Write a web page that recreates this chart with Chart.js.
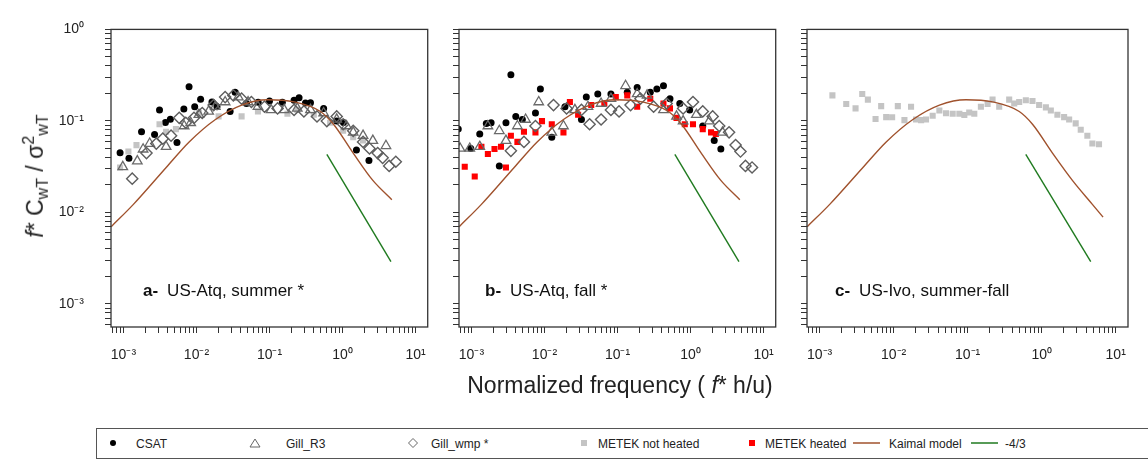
<!DOCTYPE html>
<html>
<head>
<meta charset="utf-8">
<script src="https://cdn.jsdelivr.net/npm/chart.js@4.4.0/dist/chart.umd.min.js"></script>
<style>
  html, body { margin: 0; padding: 0; background: #fff; }
  #page { position: relative; width: 1148px; height: 459px; overflow: hidden;
          font-family: "Liberation Sans", Arial, sans-serif; color: #222; }
  #page canvas { position: absolute; top: 0; }
  #ytitle { position: absolute; left: 36px; top: 176px; white-space: nowrap; font-size: 23px;
            transform: translate(-50%, -50%) rotate(-90deg); }
  #ytitle sub, #ytitle sup { font-size: 16px; }
  #xtitle { position: absolute; left: 620px; top: 385px; white-space: nowrap; font-size: 23px;
            transform: translate(-50%, -50%); }
  #legend { position: absolute; left: 96px; top: 428px; width: 1070px; height: 31px;
            border: 1px solid #555; box-sizing: border-box; font-size: 12px; }
  #legend .m { position: absolute; top: 9px; }
  #legend .t { position: absolute; top: 8px; white-space: nowrap; }
</style>
</head>
<body>
<div id="page">
  <canvas id="panelA" width="440" height="372" style="left:0px"></canvas>
  <canvas id="panelB" width="348" height="372" style="left:440px"></canvas>
  <canvas id="panelC" width="360" height="372" style="left:788px"></canvas>
  <div id="ytitle"><i>f</i>* C<sub>wT</sub>&nbsp;/&nbsp;σ<sup>2</sup><sub>wT</sub></div>
  <div id="xtitle">Normalized frequency ( <i>f</i>* h/u)</div>
  <div id="legend">
    <svg class="m" style="left:11px" width="10" height="10"><circle cx="5" cy="5" r="3" fill="#000"/></svg>
    <span class="t" style="left:39px">CSAT</span>
    <svg class="m" style="left:152px" width="12" height="10"><polygon points="6,1 11,9 1,9" fill="none" stroke="#666" stroke-width="1"/></svg>
    <span class="t" style="left:189px">Gill_R3</span>
    <svg class="m" style="left:310px" width="12" height="10"><polygon points="6,0.5 10.5,5 6,9.5 1.5,5" fill="none" stroke="#666" stroke-width="1"/></svg>
    <span class="t" style="left:334px">Gill_wmp *</span>
    <svg class="m" style="left:482px" width="10" height="10"><rect x="2" y="2" width="6" height="6" fill="#c4c4c4"/></svg>
    <span class="t" style="left:501px">METEK not heated</span>
    <svg class="m" style="left:650px" width="10" height="10"><rect x="2" y="2" width="6" height="6" fill="#ff0000"/></svg>
    <span class="t" style="left:668px">METEK heated</span>
    <svg class="m" style="left:756px" width="28" height="10"><line x1="0" y1="5" x2="27" y2="5" stroke="#a0522d" stroke-width="1.5"/></svg>
    <span class="t" style="left:792px">Kaimal model</span>
    <svg class="m" style="left:874px" width="28" height="10"><line x1="0" y1="5" x2="27" y2="5" stroke="#1f7a1f" stroke-width="1.5"/></svg>
    <span class="t" style="left:908px">-4/3</span>
  </div>
</div>
<script>
// axis limits (log10 range -3.17 .. 1.166 in x, -3.25 .. 0 in y)
const X_MIN = 6.76e-4, X_MAX = 14.66;
const Y_MIN = 5.6e-4, Y_MAX = 1;

// Kaimal model curve
const kaimalX = [6.8e-4, 1.37e-3, 3.85e-3, 7.94e-3, 0.0182, 0.0416, 0.0951, 0.217, 0.498, 0.752, 1.40, 2.60, 4.84, 6.75];
const kaimalY = [0.00698, 0.01225, 0.031, 0.0589, 0.1037, 0.149, 0.1706, 0.1614, 0.1267, 0.0919, 0.0445, 0.0224, 0.01225, 0.00888];
const kaimalShortX = [6.8e-4, 1.37e-3, 3.85e-3, 7.94e-3, 0.0182, 0.0416, 0.0951, 0.217, 0.498, 0.752, 1.40, 2.60, 4.73];
const kaimalShortY = [0.00698, 0.01225, 0.031, 0.0589, 0.1037, 0.149, 0.1706, 0.1614, 0.1267, 0.0919, 0.0445, 0.0224, 0.0138];
// -4/3 reference slope
const slopeX = [0.61, 4.6];
const slopeY = [0.043, 0.0029];

// panel a: US-Atq, summer
const aCsatX = [9.0e-4, 1.19e-3, 1.77e-3, 2.67e-3, 3.12e-3, 3.76e-3, 4.39e-3, 5.41e-3, 6.72e-3, 7.92e-3, 9.46e-3, 0.0114, 0.0163, 0.0191, 0.0289, 0.0338, 0.0484, 0.07, 0.1, 0.15, 0.217, 0.254, 0.311, 0.364, 0.551, 0.833, 1.03, 1.55, 2.30];
const aCsatY = [0.045, 0.039, 0.076, 0.071, 0.132, 0.096, 0.104, 0.058, 0.135, 0.236, 0.143, 0.172, 0.161, 0.143, 0.127, 0.206, 0.155, 0.16, 0.165, 0.16, 0.168, 0.179, 0.157, 0.158, 0.137, 0.100, 0.096, 0.048, 0.037];
const aR3X = [9.8e-4, 1.55e-3, 1.86e-3, 2.29e-3, 3.84e-3, 6.78e-3, 8.34e-3, 0.0108, 0.0147, 0.0181, 0.0247, 0.0374, 0.0509, 0.0695, 0.105, 0.159, 0.240, 0.364, 0.551, 0.832, 1.135, 1.40, 1.91, 2.60, 3.93];
const aR3Y = [0.0315, 0.0364, 0.049, 0.0566, 0.0523, 0.088, 0.0955, 0.117, 0.127, 0.143, 0.161, 0.182, 0.161, 0.143, 0.132, 0.132, 0.137, 0.132, 0.122, 0.104, 0.088, 0.075, 0.069, 0.061, 0.0535];
const aWmpX = [1.32e-3, 2.07e-3, 2.82e-3, 3.46e-3, 4.49e-3, 5.81e-3, 7.14e-3, 9.25e-3, 0.0120, 0.0172, 0.0247, 0.032, 0.0415, 0.0565, 0.0855, 0.129, 0.217, 0.296, 0.447, 0.61, 0.832, 1.02, 1.40, 1.91, 2.34, 3.03, 3.54, 4.35, 5.36];
const aWmpY = [0.0234, 0.0445, 0.0566, 0.064, 0.069, 0.108, 0.0955, 0.108, 0.122, 0.149, 0.182, 0.19, 0.175, 0.161, 0.143, 0.137, 0.132, 0.127, 0.112, 0.0995, 0.112, 0.092, 0.078, 0.059, 0.050, 0.0445, 0.0395, 0.0322, 0.0358];
const aMetekX = [9.0e-4, 1.17e-3, 1.51e-3, 3.12e-3, 3.84e-3, 5.23e-3, 0.0108, 0.0201, 0.0415, 0.0695, 0.176, 0.24, 0.404, 0.676, 1.02, 1.40, 1.91];
const aMetekY = [0.031, 0.0463, 0.0544, 0.0918, 0.0762, 0.0813, 0.122, 0.112, 0.112, 0.127, 0.12, 0.132, 0.117, 0.0955, 0.078, 0.0665, 0.061];

// panel b: US-Atq, fall
const bCsatX = [6.6e-4, 9.8e-4, 1.30e-3, 1.60e-3, 1.86e-3, 2.41e-3, 2.97e-3, 3.47e-3, 4.05e-3, 4.98e-3, 7.53e-3, 8.8e-3, 0.0126, 0.0191, 0.0321, 0.0374, 0.0537, 0.0813, 0.136, 0.186, 0.281, 0.346, 0.426, 0.523, 0.713, 0.973, 1.47, 2.11, 2.60];
const bCsatY = [0.0814, 0.050, 0.072, 0.094, 0.0955, 0.0322, 0.0955, 0.32, 0.112, 0.1036, 0.122, 0.223, 0.0665, 0.143, 0.1036, 0.182, 0.197, 0.197, 0.206, 0.232, 0.206, 0.223, 0.242, 0.175, 0.155, 0.132, 0.088, 0.061, 0.0494];
const bR3X = [7.0e-4, 9.5e-4, 1.30e-3, 1.68e-3, 2.41e-3, 2.97e-3, 4.26e-3, 5.52e-3, 8.35e-3, 0.0126, 0.0182, 0.0261, 0.0394, 0.0596, 0.0813, 0.129, 0.186, 0.254, 0.426, 0.643, 0.791, 1.20, 1.81, 2.74];
const bR3Y = [0.050, 0.050, 0.0523, 0.088, 0.078, 0.061, 0.088, 0.1036, 0.161, 0.075, 0.088, 0.132, 0.143, 0.155, 0.175, 0.242, 0.197, 0.19, 0.132, 0.112, 0.0995, 0.117, 0.0995, 0.075];
const bWmpX = [3.47e-3, 5.24e-3, 7.53e-3, 0.0133, 0.0201, 0.0321, 0.0415, 0.0596, 0.0813, 0.105, 0.151, 0.206, 0.312, 0.471, 0.791, 1.08, 1.47, 2.01, 2.47, 3.37, 4.14, 4.83, 5.65, 6.95];
const bWmpY = [0.0471, 0.059, 0.088, 0.149, 0.137, 0.132, 0.092, 0.1036, 0.132, 0.127, 0.149, 0.175, 0.143, 0.155, 0.137, 0.161, 0.127, 0.112, 0.088, 0.075, 0.0544, 0.0463, 0.0322, 0.031];
const bHeatedX = [8.1e-4, 1.11e-3, 1.37e-3, 1.68e-3, 2.07e-3, 2.54e-3, 2.97e-3, 3.47e-3, 4.26e-3, 5.24e-3, 7.53e-3, 9.25e-3, 0.0126, 0.0182, 0.0223, 0.0289, 0.0437, 0.066, 0.0948, 0.136, 0.186, 0.281, 0.426, 0.523, 0.643, 0.834, 1.08, 1.47, 1.91, 2.22];
const bHeatedY = [0.0315, 0.0247, 0.0523, 0.0435, 0.0494, 0.0523, 0.031, 0.069, 0.059, 0.0762, 0.075, 0.0995, 0.092, 0.075, 0.161, 0.117, 0.149, 0.155, 0.182, 0.19, 0.143, 0.175, 0.155, 0.137, 0.108, 0.092, 0.092, 0.0814, 0.075, 0.072];

// panel c: US-Ivo, summer-fall
const cMetekX = [1.49e-3, 2.29e-3, 3.06e-3, 3.77e-3, 4.49e-3, 5.70e-3, 6.79e-3, 7.93e-3, 9.55e-3, 0.0114, 0.014, 0.0172, 0.0201, 0.0235, 0.0274, 0.0337, 0.0415, 0.051, 0.0628, 0.0773, 0.0902, 0.105, 0.123, 0.151, 0.186, 0.217, 0.267, 0.364, 0.426, 0.497, 0.611, 0.752, 0.924, 1.14, 1.33, 1.63, 2.01, 2.35, 2.88, 3.37, 4.14, 4.84, 5.95];
const cMetekY = [0.19, 0.153, 0.137, 0.197, 0.171, 0.105, 0.145, 0.110, 0.1095, 0.145, 0.102, 0.143, 0.1036, 0.102, 0.1036, 0.114, 0.13, 0.1215, 0.1197, 0.1197, 0.116, 0.1236, 0.1197, 0.143, 0.153, 0.171, 0.143, 0.171, 0.155, 0.161, 0.168, 0.165, 0.149, 0.1406, 0.13, 0.117, 0.110, 0.1036, 0.094, 0.080, 0.069, 0.0566, 0.0557];

const FONT = '"Liberation Sans", Arial, sans-serif';
const SUP = { '-': '\u207B', '0': '\u2070', '1': '\u00B9', '2': '\u00B2', '3': '\u00B3', '4': '\u2074' };

const pts = (xs, ys) => xs.map((x, i) => ({ x: x, y: ys[i] }));
const isDecade = v => Math.abs(Math.log10(v) - Math.round(Math.log10(v))) < 1e-6;
const decadeLabel = v => '10' + String(Math.round(Math.log10(v))).split('').map(c => SUP[c]).join('');

function logTicks(lo, hi) {
  const out = [];
  for (let e = -4; e <= 1; e++) {
    for (let m = 1; m <= 9; m++) {
      const v = m * Math.pow(10, e);
      if (v >= lo * 0.999 && v <= hi * 1.001) out.push({ value: v });
    }
  }
  return out;
}

// frame round the plot and the panel caption
const panelDeco = {
  id: 'panelDeco',
  afterDraw(chart, args, opts) {
    const ctx = chart.ctx, a = chart.chartArea;
    ctx.save();
    ctx.strokeStyle = '#333';
    ctx.lineWidth = 1.3;
    ctx.strokeRect(a.left, a.top, a.right - a.left, a.bottom - a.top);
    ctx.fillStyle = '#111';
    ctx.textBaseline = 'alphabetic';
    const x = a.left + opts.dx, y = a.bottom - 31;
    ctx.font = 'bold 17px ' + FONT;
    ctx.fillText(opts.tag, x, y);
    const w = ctx.measureText(opts.tag).width;
    ctx.font = '17px ' + FONT;
    ctx.fillText(opts.text, x + w + 9, y);
    ctx.restore();
  }
};

const csatStyle = { pointStyle: 'circle', pointRadius: 3.5, backgroundColor: '#000', borderColor: '#000', borderWidth: 0, order: 5 };
const metekStyle = { pointStyle: 'rect', pointRadius: 4.3, backgroundColor: '#c4c4c4', borderColor: '#c4c4c4', borderWidth: 0, order: 4 };
const heatedStyle = { pointStyle: 'rect', pointRadius: 4.3, backgroundColor: '#ff0000', borderColor: '#ff0000', borderWidth: 0, order: 4 };
const r3Style = { pointStyle: 'triangle', pointRadius: 5.5, backgroundColor: 'rgba(0,0,0,0)', borderColor: '#6a6a6a', borderWidth: 1.3, order: 3 };
const wmpStyle = { pointStyle: 'rectRot', pointRadius: 5.6, backgroundColor: 'rgba(0,0,0,0)', borderColor: '#5e5e5e', borderWidth: 1.4, order: 2 };
const lineStyle = (color) => ({ showLine: true, pointRadius: 0, borderColor: color, borderWidth: 1.4, fill: false, order: 1 });

function makePanel(id, yWidth, padRight, showYLabels, datasets, deco) {
  return new Chart(document.getElementById(id), {
    type: 'scatter',
    data: { datasets: datasets },
    options: {
      responsive: false,
      animation: false,
      devicePixelRatio: 1,
      events: [],
      layout: { padding: { top: 18, right: padRight, left: 0, bottom: 0 } },
      plugins: { legend: { display: false }, tooltip: { enabled: false }, panelDeco: deco },
      scales: {
        x: {
          type: 'logarithmic', min: X_MIN, max: X_MAX,
          afterBuildTicks: s => { s.ticks = logTicks(X_MIN, X_MAX); },
          afterFit: s => { s.height = 45; },
          border: { display: false },
          grid: { display: true, drawOnChartArea: false, drawTicks: true, tickLength: 6, color: '#333', lineWidth: 1 },
          ticks: { autoSkip: false, maxRotation: 0, minRotation: 0, padding: 14, color: '#222',
                   font: { family: FONT, size: 14 },
                   callback: v => isDecade(v) ? decadeLabel(v) : '' }
        },
        y: {
          type: 'logarithmic', min: Y_MIN, max: Y_MAX,
          afterBuildTicks: s => { s.ticks = logTicks(Y_MIN, Y_MAX); },
          afterFit: s => { s.width = yWidth; },
          border: { display: false },
          grid: { display: true, drawOnChartArea: false, drawTicks: true, tickLength: 6, color: '#333', lineWidth: 1 },
          ticks: { autoSkip: false, padding: 21, color: '#222',
                   font: { family: FONT, size: 14 },
                   callback: v => (showYLabels && isDecade(v)) ? decadeLabel(v) : '' }
        }
      }
    },
    plugins: [panelDeco]
  });
}

makePanel('panelA', 111, 8, true, [
  Object.assign({ label: 'Kaimal model', data: pts(kaimalShortX, kaimalShortY), cubicInterpolationMode: 'monotone' }, lineStyle('#a0522d')),
  Object.assign({ label: '-4/3', data: pts(slopeX, slopeY) }, lineStyle('#1f7a1f')),
  Object.assign({ label: 'Gill_wmp *', data: pts(aWmpX, aWmpY) }, wmpStyle),
  Object.assign({ label: 'Gill_R3', data: pts(aR3X, aR3Y) }, r3Style),
  Object.assign({ label: 'METEK not heated', data: pts(aMetekX, aMetekY) }, metekStyle),
  Object.assign({ label: 'CSAT', data: pts(aCsatX, aCsatY) }, csatStyle)
], { tag: 'a-', text: 'US-Atq, summer *', dx: 32 });

makePanel('panelB', 19, 8, false, [
  Object.assign({ label: 'Kaimal model', data: pts(kaimalShortX, kaimalShortY), cubicInterpolationMode: 'monotone' }, lineStyle('#a0522d')),
  Object.assign({ label: '-4/3', data: pts(slopeX, slopeY) }, lineStyle('#1f7a1f')),
  Object.assign({ label: 'Gill_wmp *', data: pts(bWmpX, bWmpY) }, wmpStyle),
  Object.assign({ label: 'Gill_R3', data: pts(bR3X, bR3Y) }, r3Style),
  Object.assign({ label: 'METEK heated', data: pts(bHeatedX, bHeatedY) }, heatedStyle),
  Object.assign({ label: 'CSAT', data: pts(bCsatX, bCsatY) }, csatStyle)
], { tag: 'b-', text: 'US-Atq, fall *', dx: 26 });

makePanel('panelC', 19, 20, false, [
  Object.assign({ label: 'Kaimal model', data: pts(kaimalX, kaimalY), cubicInterpolationMode: 'monotone' }, lineStyle('#a0522d')),
  Object.assign({ label: '-4/3', data: pts(slopeX, slopeY) }, lineStyle('#1f7a1f')),
  Object.assign({ label: 'METEK not heated', data: pts(cMetekX, cMetekY) }, metekStyle)
], { tag: 'c-', text: 'US-Ivo, summer-fall', dx: 28 });
</script>
</body>
</html>
